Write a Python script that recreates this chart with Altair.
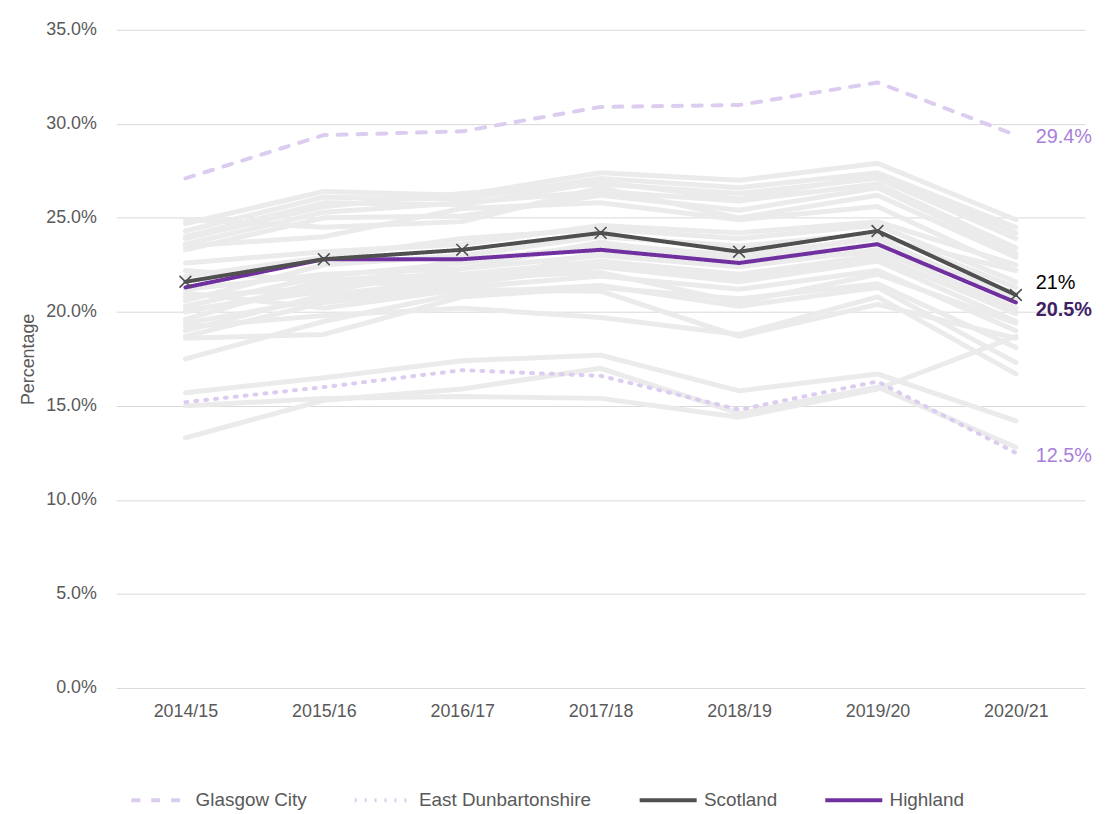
import altair as alt
import pandas as pd

FONT = "Liberation Sans"

years = ["2014/15", "2015/16", "2016/17", "2017/18", "2018/19", "2019/20", "2020/21"]

glasgow_city = [27.1, 29.4, 29.6, 30.9, 31.0, 32.2, 29.4]
east_dunbartonshire = [15.2, 16.0, 16.9, 16.6, 14.8, 16.3, 12.5]
scotland = [21.6, 22.8, 23.3, 24.2, 23.2, 24.3, 20.9]
highland = [21.3, 22.8, 22.8, 23.3, 22.6, 23.6, 20.5]

other_councils = [
    [24.7, 26.4, 26.2, 27.4, 27.0, 27.9, 24.9],
    [24.3, 26.1, 26.0, 27.1, 26.6, 27.4, 24.5],
    [23.9, 25.6, 26.3, 26.8, 26.3, 27.1, 23.9],
    [23.6, 25.3, 25.8, 26.4, 25.9, 26.8, 23.4],
    [23.3, 25.0, 25.1, 26.2, 25.4, 26.6, 23.1],
    [24.9, 24.5, 24.8, 26.6, 25.0, 26.2, 22.9],
    [23.5, 24.0, 25.5, 25.8, 24.9, 25.6, 22.2],
    [24.0, 25.8, 25.7, 26.9, 26.0, 27.3, 24.2],
    [22.6, 23.2, 23.6, 24.6, 24.2, 24.8, 22.5],
    [21.9, 22.9, 23.9, 24.4, 23.9, 24.6, 21.6],
    [20.6, 22.5, 23.0, 24.0, 23.5, 24.2, 21.3],
    [20.3, 21.9, 22.6, 23.6, 23.0, 23.9, 20.6],
    [20.1, 21.1, 22.3, 23.0, 22.4, 23.3, 20.2],
    [19.6, 21.7, 22.0, 22.7, 22.0, 23.0, 19.9],
    [19.4, 20.7, 21.5, 22.4, 21.6, 22.7, 19.5],
    [18.7, 20.5, 21.3, 21.9, 21.2, 22.2, 19.0],
    [18.6, 18.8, 20.8, 21.3, 20.7, 21.5, 18.1],
    [17.5, 19.5, 21.0, 21.4, 20.3, 21.3, 17.3],
    [19.2, 19.8, 20.2, 19.7, 18.8, 20.8, 16.7],
    [21.0, 20.2, 21.2, 21.1, 18.7, 20.4, 18.6],
    [20.0, 21.4, 21.8, 22.1, 20.5, 22.0, 19.4],
    [22.2, 21.6, 21.4, 23.2, 22.8, 24.0, 22.2],
    [21.2, 22.0, 22.3, 23.7, 22.7, 23.6, 20.9],
    [19.0, 20.9, 21.7, 22.6, 21.8, 22.9, 20.0],
    [20.8, 21.3, 22.8, 23.4, 22.6, 23.2, 21.0],
    [15.7, 16.5, 17.4, 17.7, 15.8, 16.7, 14.2],
    [15.0, 15.4, 15.5, 15.4, 14.4, 15.9, 18.7],
    [13.3, 15.3, 15.9, 17.0, 14.6, 16.0, 12.8],
]

highlight_names = ["Glasgow City", "East Dunbartonshire", "Scotland", "Highland"]
highlight_colors = ["#dccdf0", "#dccdf0", "#505050", "#7030a0"]
highlight_dashes = [[9, 11], [2, 8], [1, 0], [1, 0]]
highlight_widths = [4, 4, 2.5, 4.5]
end_labels = ["29.4%", "12.5%", "21%", "20.5%"]

# ---- build tables ----
rows = []
for i, vals in enumerate(other_councils):
    for yr, v in zip(years, vals):
        rows.append({"series": f"Council {i+1}", "year": yr, "value": v})
grey_df = pd.DataFrame(rows)

hl_values = [glasgow_city, east_dunbartonshire, scotland, highland]
hl_rows = []
for name, vals in zip(highlight_names, hl_values):
    for yr, v in zip(years, vals):
        hl_rows.append({"series": name, "year": yr, "value": v})
hl_df = pd.DataFrame(hl_rows)

label_df = pd.DataFrame({
    "series": highlight_names,
    "year": [years[-1]] * 4,
    "value": [vals[-1] for vals in hl_values],
    "label": end_labels,
})

x_enc = alt.X(
    "year:N", sort=years,
    axis=alt.Axis(title=None, labelAngle=0, ticks=False, domain=False, grid=False,
                  labelPadding=15, labelFontSize=18, labelColor="#595959", labelFont=FONT),
)
y_enc = alt.Y(
    "value:Q",
    scale=alt.Scale(domain=[0, 35], nice=False, zero=True),
    axis=alt.Axis(values=[0, 5, 10, 15, 20, 25, 30, 35],
                  labelExpr="format(datum.value, '.1f') + '%'",
                  title="Percentage", titleFont=FONT, titleFontSize=18,
                  titleFontWeight="normal", titleColor="#595959", titlePadding=8,
                  labelFont=FONT, labelFontSize=18, labelColor="#595959",
                  labelPadding=20, ticks=False, domain=False,
                  grid=True, gridColor="#d9d9d9", gridWidth=1),
)

legend = alt.Legend(
    title=None, orient="none", legendX=13, legendY=745, direction="horizontal",
    symbolType="stroke", symbolSize=3300, labelFont=FONT, labelFontSize=19,
    labelColor="#595959", columnPadding=40, labelOffset=5, padding=0, labelLimit=400,
)

color_enc = alt.Color("series:N", scale=alt.Scale(domain=highlight_names, range=highlight_colors), legend=legend)
dash_enc = alt.StrokeDash("series:N", scale=alt.Scale(domain=highlight_names, range=highlight_dashes), legend=legend)
width_enc = alt.StrokeWidth("series:N", scale=alt.Scale(domain=highlight_names, range=highlight_widths), legend=legend)

grey = alt.Chart(grey_df).mark_line(
    color="#ebebeb", strokeWidth=5, strokeCap="round", strokeJoin="round"
).encode(x=x_enc, y=y_enc, detail="series:N")


def hl_layer(name):
    return alt.Chart(hl_df).transform_filter(alt.datum.series == name).mark_line(
        strokeCap="round", strokeJoin="round"
    ).encode(x=x_enc, y=y_enc, color=color_enc, strokeDash=dash_enc, strokeWidth=width_enc)


scot_points = alt.Chart(hl_df).transform_filter(alt.datum.series == "Scotland").mark_point(
    shape="M-1,-1L1,1M-1,1L1,-1", filled=False, stroke="#505050", strokeWidth=1.6,
    size=140, opacity=1
).encode(x=x_enc, y=y_enc)


def label_layer(name, color, weight, dy):
    return alt.Chart(label_df).transform_filter(alt.datum.series == name).mark_text(
        align="left", baseline="middle", dx=20, dy=dy, font=FONT, fontSize=20,
        fontWeight=weight, color=color
    ).encode(x=x_enc, y=y_enc, text="label:N")


chart = alt.layer(
    grey,
    hl_layer("Glasgow City"),
    hl_layer("East Dunbartonshire"),
    hl_layer("Highland"),
    hl_layer("Scotland"),
    scot_points,
    label_layer("Glasgow City", "#a97fdc", "normal", 2),
    label_layer("East Dunbartonshire", "#a97fdc", "normal", 3),
    label_layer("Scotland", "#000000", "normal", -12),
    label_layer("Highland", "#3f1f66", "bold", 8),
).properties(
    width=976, height=663,
    background="white",
    autosize=alt.AutoSizeParams(type="none"),
    padding={"left": 109, "top": 19, "right": 14, "bottom": 124},
).configure_view(strokeWidth=0, stroke="transparent")

chart.save("out.html", embed_options={"renderer": "svg", "actions": False})
